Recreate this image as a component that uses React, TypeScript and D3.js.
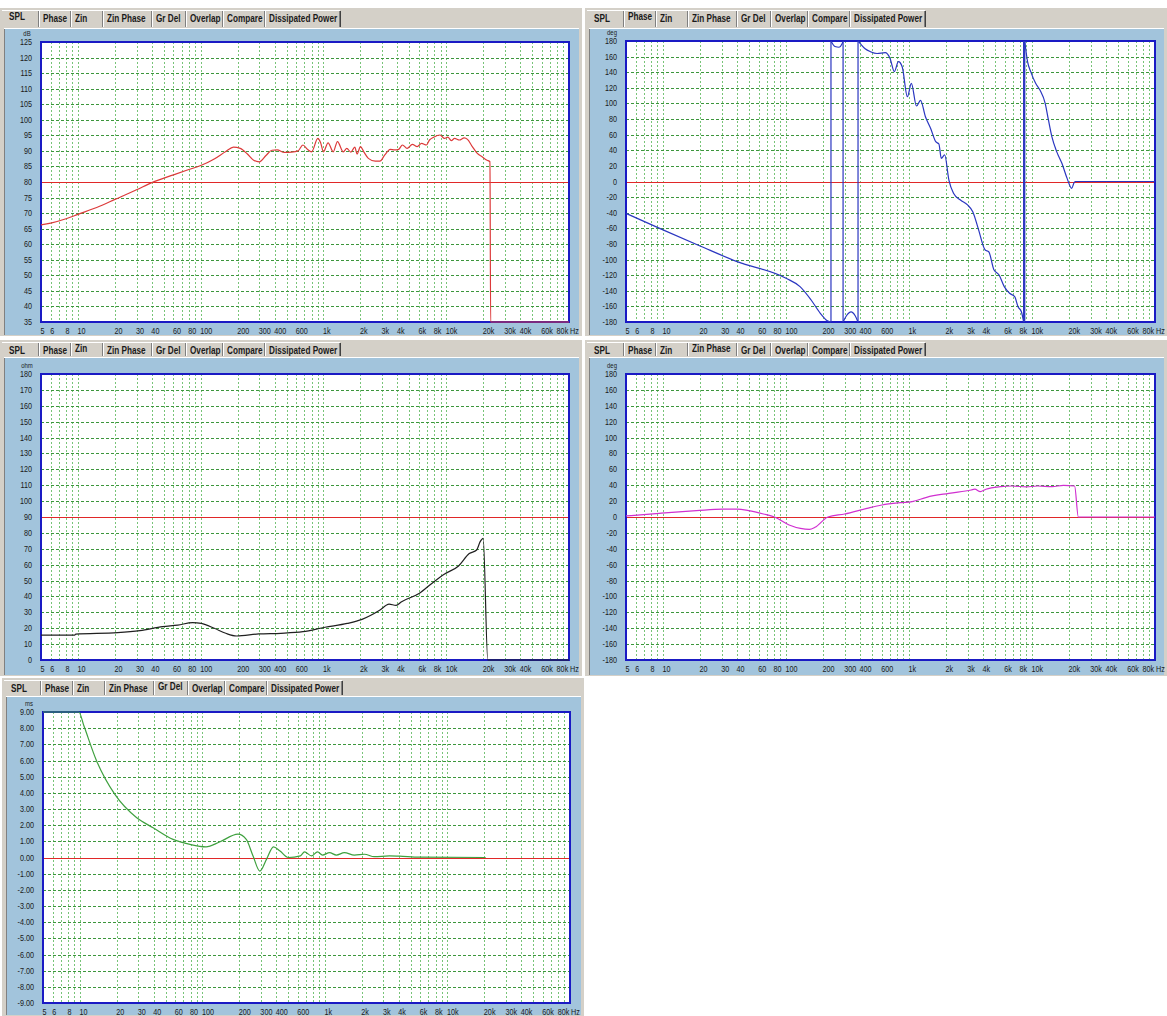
import React from "react";
import * as d3 from "d3";

// ---------- axis ticks ----------
const FREQ_TICKS = [5, 6, 8, 10, 20, 30, 40, 60, 80, 100, 200, 300, 400, 600, 1000, 2000, 3000, 4000, 6000, 8000, 10000, 20000, 30000, 40000, 60000, 80000];
const FREQ_LABELS = ["5", "6", "8", "10", "20", "30", "40", "60", "80", "100", "200", "300", "400", "600", "1k", "2k", "3k", "4k", "6k", "8k", "10k", "20k", "30k", "40k", "60k", "80k"];
const TAB_NAMES = ["SPL", "Phase", "Zin", "Zin Phase", "Gr Del", "Overlap", "Compare", "Dissipated Power"];

const SPL_TICKS = [35, 40, 45, 50, 55, 60, 65, 70, 75, 80, 85, 90, 95, 100, 105, 110, 115, 120, 125];
const PHASE_TICKS = [-180, -160, -140, -120, -100, -80, -60, -40, -20, 0, 20, 40, 60, 80, 100, 120, 140, 160, 180];
const ZIN_TICKS = [0, 10, 20, 30, 40, 50, 60, 70, 80, 90, 100, 110, 120, 130, 140, 150, 160, 170, 180];
const GRDEL_TICKS = [-9, -8, -7, -6, -5, -4, -3, -2, -1, 0, 1, 2, 3, 4, 5, 6, 7, 8, 9];

// ---------- data ----------
const SPL_FREQ = [5, 6, 8, 10, 15, 20, 30, 40, 60, 80, 100, 130, 160, 185, 210, 240, 270, 300, 340, 380, 420, 480, 550, 620, 680, 740, 800, 900, 950, 1000, 1090, 1200, 1300, 1450, 1550, 1670, 1800, 1880, 2000, 2130, 2320, 2640, 2880, 3160, 3500, 3800, 4100, 4400, 4800, 5300, 5800, 6300, 6900, 7300, 7900, 8900, 9700, 10300, 11000, 11700, 12800, 14000, 14900, 16300, 17900, 19600, 21500, 22700, 23000, 100000];
const SPL_DB = [66.2, 66.8, 68.2, 69.6, 72.2, 74.4, 77.5, 79.8, 82.3, 84, 85.3, 87.5, 89.8, 91.2, 90.8, 89, 87, 86.5, 88.5, 90.2, 90.3, 89.5, 89.6, 90, 91.9, 90.5, 89.7, 94, 92.5, 89.7, 92.6, 89.7, 93, 89.7, 90.8, 89.6, 91.2, 89, 91.4, 89.7, 87.6, 86.7, 86.7, 88.7, 90.5, 90.3, 90.5, 91.9, 90.8, 92.1, 91.4, 92.4, 91.9, 93.5, 94.4, 95.1, 94, 94.4, 93.3, 94, 93.5, 94.2, 93.7, 91.4, 89.2, 88.1, 87, 86.5, 30, 30];

const PHASE_FREQ = [5, 10, 20, 40, 100, 130, 160, 190, 215, 232, 232, 250, 270, 285, 291, 291, 310, 338, 365, 385, 385, 400, 440, 486, 550, 640, 700, 760, 820, 880, 970, 1045, 1150, 1240, 1360, 1500, 1650, 1750, 1830, 1950, 2110, 2300, 2620, 2990, 3300, 3650, 4160, 4450, 4900, 5400, 5950, 6570, 7230, 7700, 8200, 8550, 8550, 8640, 8640, 8730, 8730, 9200, 9760, 10700, 11600, 12800, 13600, 14500, 15900, 17500, 19300, 21000, 22000, 22500, 100000];
const PHASE_DEG = [-40.8, -62, -82.6, -102.7, -124, -134.7, -151.8, -168.8, -178, -180, 180, 173, 172, 176, 180, -180, -172, -167, -172, -180, 180, 177, 170, 166.3, 164, 165, 158, 140.7, 153.5, 147, 108.6, 125.8, 96.7, 104, 83, 68, 51, 48, 29.7, 34, 1.9, -15, -23.7, -30, -38.7, -60, -87.7, -90, -113, -119.8, -134.7, -143.2, -147.6, -160.4, -166.8, -180, 180, 178, -180, -178, 180, 153.5, 140.7, 125.8, 117.2, 100.2, 78.8, 57.4, 38, 23.3, 4, -8.7, -1.5, 0, 0];

const ZIN_FREQ = [5, 9.4, 9.6, 21, 32, 49, 65, 86, 101, 129, 160, 196, 297, 450, 680, 1030, 1560, 2060, 2890, 3420, 3900, 4330, 6050, 7630, 9620, 12600, 15400, 17700, 18900, 20000, 21800, 100000];
const ZIN_OHM = [15.7, 15.7, 16.3, 17.2, 18.5, 21, 22, 23.5, 23, 20, 16.8, 15.1, 16.4, 16.8, 17.8, 20.6, 23, 25.6, 31.5, 35.2, 34.4, 36.7, 42, 48.2, 54, 59.2, 67, 69.2, 74.5, 76.6, 0, 0];

const ZPH_FREQ = [5, 9.3, 18.7, 30.5, 40.3, 49.6, 65.5, 80.6, 106, 131, 155, 172, 219, 300, 455, 602, 855, 1060, 1390, 2110, 3200, 3430, 3800, 4220, 5560, 6850, 9030, 11100, 14600, 18000, 22200, 23800, 100000];
const ZPH_DEG = [1.3, 4.6, 8, 10, 10, 8, 3.8, 0, -10, -14.3, -15.5, -13, 0, 3.8, 10.9, 15.1, 18, 19.3, 24.8, 29.8, 34, 35, 31.9, 35, 38.2, 39, 37.8, 39, 38.2, 39.9, 39, 0, 0];

const GD_FREQ = [5, 9.8, 10.8, 13.7, 19.3, 29.1, 39.6, 57.6, 79.2, 107, 138, 195, 228, 259, 294, 334, 380, 430, 503, 630, 681, 777, 870, 955, 1090, 1240, 1440, 1740, 2100, 2530, 3360, 4060, 5900, 20500];
const GD_MS = [9, 9, 8.13, 5.97, 3.9, 2.46, 1.84, 1.12, 0.81, 0.66, 0.96, 1.44, 1.12, 0.09, -0.84, -0.1, 0.66, 0.4, 0.0, 0.1, 0.35, 0.1, 0.35, 0.15, 0.3, 0.15, 0.3, 0.15, 0.2, 0.05, 0.1, 0.08, 0.02, 0.0];

// ---------- layout ----------
const TAB_LEFTS = [5, 39, 71, 103, 152, 186, 223, 265];
const TAB_END = 340;
const FONT = "'Liberation Sans', Arial, sans-serif";

type Cfg = {
  x0: number; tabTop: number; blueTop: number; blueBottom: number;
  plotLeft: number; plotRight: number; plotTop: number; plotBottom: number;
  selected: number; yDomain: [number, number]; yTicks: number[]; fmt: (v: number) => string;
  unit: string; refValue: number; freq: number[]; vals: number[]; color: string;
};

const PANELS: Cfg[] = [
  { x0: 0, tabTop: 8, blueTop: 29, blueBottom: 336, plotLeft: 41, plotRight: 569, plotTop: 42, plotBottom: 322, selected: 0, yDomain: [35, 125], yTicks: SPL_TICKS, fmt: (v) => String(v), unit: "dB", refValue: 80, freq: SPL_FREQ, vals: SPL_DB, color: "#dc3a3a" },
  { x0: 585, tabTop: 8, blueTop: 29, blueBottom: 336, plotLeft: 626, plotRight: 1155, plotTop: 41, plotBottom: 322, selected: 1, yDomain: [-180, 180], yTicks: PHASE_TICKS, fmt: (v) => String(v), unit: "deg", refValue: 0, freq: PHASE_FREQ, vals: PHASE_DEG, color: "#2a36c0" },
  { x0: 0, tabTop: 340, blueTop: 358, blueBottom: 676, plotLeft: 41, plotRight: 569, plotTop: 374, plotBottom: 660, selected: 2, yDomain: [0, 180], yTicks: ZIN_TICKS, fmt: (v) => String(v), unit: "ohm", refValue: 90, freq: ZIN_FREQ, vals: ZIN_OHM, color: "#202020" },
  { x0: 585, tabTop: 340, blueTop: 358, blueBottom: 676, plotLeft: 626, plotRight: 1155, plotTop: 374, plotBottom: 660, selected: 3, yDomain: [-180, 180], yTicks: PHASE_TICKS, fmt: (v) => String(v), unit: "deg", refValue: 0, freq: ZPH_FREQ, vals: ZPH_DEG, color: "#d030d0" },
  { x0: 2, tabTop: 678, blueTop: 697, blueBottom: 1016, plotLeft: 43, plotRight: 570, plotTop: 712, plotBottom: 1003, selected: 4, yDomain: [-9, 9], yTicks: GRDEL_TICKS, fmt: (v) => v.toFixed(2), unit: "ms", refValue: 0, freq: GD_FREQ, vals: GD_MS, color: "#3ea03e" },
];

function T({ x, y, size, anchor, bold, sx, children }: { x: number; y: number; size: number; anchor?: string; bold?: boolean; sx: number; children: React.ReactNode }) {
  return (
    <text transform={`translate(${x},${y}) scale(${sx},1)`} textAnchor={anchor || "start"} fontFamily={FONT} fontSize={size} fontWeight={bold ? "bold" : "normal"} fill="#1a1a1a">
      {children}
    </text>
  );
}

// split a series wherever two consecutive points share a frequency (a vertical jump)
function pieces(freq: number[], vals: number[]) {
  const out: { f: number; v: number }[][] = [];
  let cur: { f: number; v: number }[] = [];
  freq.forEach((f, i) => {
    if (i > 0 && f === freq[i - 1]) {
      out.push(cur);
      cur = [];
    }
    cur.push({ f, v: vals[i] });
  });
  out.push(cur);
  return out;
}

function Panel({ c }: { c: Cfg }) {
  const x = d3.scaleLog().domain([5, 100000]).range([c.plotLeft, c.plotRight]);
  const y = d3.scaleLinear().domain(c.yDomain).range([c.plotBottom, c.plotTop]).clamp(true);
  const gridX = x.ticks().filter((f) => f > 5.01 && f < 99999);
  const line = d3.line<{ f: number; v: number }>().x((d) => x(d.f)).y((d) => y(d.v)).curve(d3.curveMonotoneX);
  const segs = pieces(c.freq, c.vals);
  const tabBottom = c.blueTop;
  return (
    <g>
      {/* tab strip */}
      <rect x={c.x0} y={c.tabTop} width={582} height={c.blueBottom - c.tabTop} fill="#d4d0c8" />
      <line x1={c.x0 + 2} x2={c.x0 + TAB_END} y1={c.tabTop + 2.5} y2={c.tabTop + 2.5} stroke="#ffffff" />
      {TAB_NAMES.map((name, i) => {
        const left = c.x0 + TAB_LEFTS[i];
        const sel = i === c.selected;
        return (
          <g key={name}>
            {i > 0 && <line x1={left - 0.5} x2={left - 0.5} y1={c.tabTop + 3} y2={tabBottom - 2} stroke="#808080" />}
            {i > 0 && <line x1={left + 0.5} x2={left + 0.5} y1={c.tabTop + 3} y2={tabBottom - 2} stroke="#ffffff" />}
            <T x={left + 4} y={c.tabTop + (sel ? 12 : 14)} size={10.5} bold sx={0.78}>{name}</T>
          </g>
        );
      })}
      <line x1={c.x0 + TAB_END - 0.5} x2={c.x0 + TAB_END - 0.5} y1={c.tabTop + 3} y2={tabBottom - 2} stroke="#808080" />
      <line x1={c.x0 + TAB_END + 0.5} x2={c.x0 + TAB_END + 0.5} y1={c.tabTop + 3} y2={tabBottom - 2} stroke="#404040" />
      {/* blue area */}
      <rect x={c.x0 + 5} y={c.blueTop} width={574} height={c.blueBottom - c.blueTop - 1} fill="#a2c4dc" />
      <line x1={c.x0 + 4.5} x2={c.x0 + 4.5} y1={c.blueTop} y2={c.blueBottom - 1} stroke="#808080" />
      <line x1={c.x0 + 4} x2={c.x0 + 579} y1={c.blueTop - 0.5} y2={c.blueTop - 0.5} stroke="#ffffff" />
      {/* plot */}
      <rect x={c.plotLeft} y={c.plotTop} width={c.plotRight - c.plotLeft} height={c.plotBottom - c.plotTop} fill="#ffffff" />
      {gridX.map((f, i) => (
        <line key={"gx" + i} x1={Math.round(x(f)) + 0.5} x2={Math.round(x(f)) + 0.5} y1={c.plotTop} y2={c.plotBottom} stroke="#78c478" strokeDasharray="2,2" strokeWidth={1} />
      ))}
      {c.yTicks.map((t, i) => (
        <line key={"gy" + i} x1={c.plotLeft} x2={c.plotRight} y1={Math.round(y(t)) + 0.5} y2={Math.round(y(t)) + 0.5} stroke="#3c963c" strokeDasharray="3,2" strokeWidth={1} />
      ))}
      <line x1={c.plotLeft} x2={c.plotRight} y1={Math.round(y(c.refValue)) + 0.5} y2={Math.round(y(c.refValue)) + 0.5} stroke="#e02828" strokeWidth={1.2} />
      <rect x={c.plotLeft} y={c.plotTop} width={c.plotRight - c.plotLeft} height={c.plotBottom - c.plotTop} fill="none" stroke="#1a1ac4" strokeWidth={2} />
      {segs.map((s, i) => (
        <path key={"s" + i} d={line(s) || ""} fill="none" stroke={c.color} strokeWidth={1.2} strokeLinejoin="round" />
      ))}
      {segs.slice(1).map((s, i) => {
        const prev = segs[i][segs[i].length - 1];
        return <line key={"j" + i} x1={x(prev.f)} x2={x(s[0].f)} y1={y(prev.v)} y2={y(s[0].v)} stroke={c.color} strokeWidth={1.2} />;
      })}
      {/* y labels */}
      {c.yTicks.map((t, i) => (
        <T key={"yl" + i} x={c.plotLeft - 9} y={y(t) + 3} size={8.5} anchor="end" sx={0.85}>{c.fmt(t)}</T>
      ))}
      <T x={c.plotLeft - 14} y={c.plotTop - 6} size={7} anchor="middle" sx={0.85}>{c.unit}</T>
      {/* x labels */}
      {FREQ_TICKS.map((f, i) => (
        <T key={"xl" + i} x={x(f) - 0.5} y={c.plotBottom + 12} size={8.5} sx={0.85}>{FREQ_LABELS[i]}</T>
      ))}
      <T x={c.plotRight + 1} y={c.plotBottom + 12} size={8.5} sx={0.85}>Hz</T>
    </g>
  );
}

export default function App() {
  return (
    <svg width={1167} height={1016} style={{ position: "absolute", left: 0, top: 0, background: "#ffffff" }}>
      {PANELS.map((c, i) => (
        <Panel key={i} c={c} />
      ))}
    </svg>
  );
}
